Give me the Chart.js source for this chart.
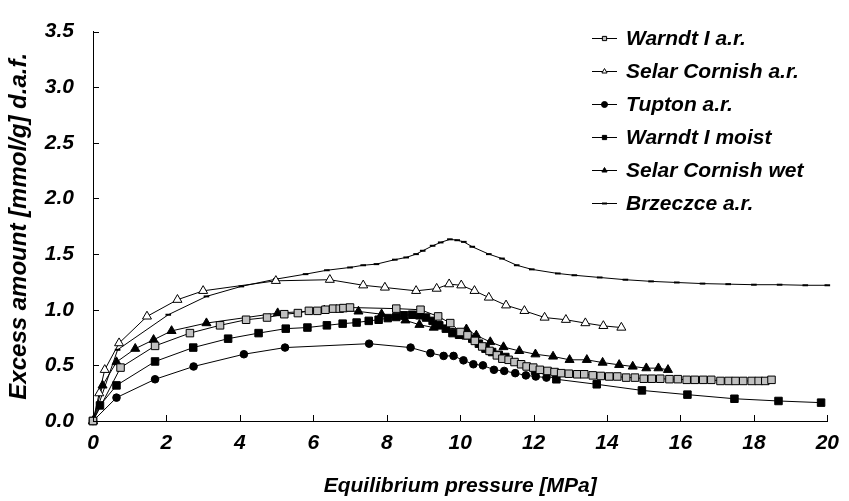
<!DOCTYPE html>
<html>
<head>
<meta charset="utf-8">
<script src="https://cdn.jsdelivr.net/npm/chart.js@4.4.0/dist/chart.umd.min.js"></script>
<style>
body { margin: 0; background: #fff; }
</style>
</head>
<body>
<canvas id="chart" width="849" height="501"></canvas>
<script>
// [pressure MPa, excess amount mmol/g]
const warndtAr = [[0,0],[0.75,0.48],[1.69,0.675],[2.64,0.79],[3.46,0.86],[4.17,0.91],[4.74,0.93],[5.21,0.96],[5.58,0.97],[5.88,0.99],[6.11,0.99],[6.33,1.0],[6.54,1.01],[6.72,1.01],[6.82,1.015],[7.0,1.02],[8.26,1.01],[8.92,1.0],[9.40,0.94],[9.73,0.88],[10.01,0.80],[10.2,0.77],[10.4,0.72],[10.6,0.67],[10.8,0.63],[11.0,0.59],[11.15,0.56],[11.32,0.55],[11.48,0.53],[11.66,0.51],[11.81,0.49],[11.99,0.48],[12.17,0.46],[12.38,0.45],[12.57,0.44],[12.75,0.43],[12.96,0.425],[13.19,0.42],[13.38,0.42],[13.61,0.41],[13.83,0.405],[14.06,0.40],[14.28,0.40],[14.52,0.39],[14.76,0.39],[15.0,0.38],[15.22,0.38],[15.45,0.38],[15.70,0.376],[15.93,0.376],[16.17,0.37],[16.39,0.37],[16.62,0.37],[16.84,0.37],[17.09,0.36],[17.31,0.36],[17.50,0.36],[17.71,0.36],[17.94,0.36],[18.13,0.36],[18.31,0.36],[18.48,0.37]];
const selarAr = [[0,0],[0.17,0.25],[0.32,0.46],[0.71,0.70],[1.47,0.94],[2.30,1.09],[3.0,1.17],[4.98,1.26],[6.45,1.27],[7.36,1.22],[7.95,1.20],[8.80,1.17],[9.36,1.19],[9.70,1.23],[10.03,1.22],[10.39,1.17],[10.78,1.11],[11.25,1.04],[11.75,0.99],[12.30,0.93],[12.88,0.91],[13.41,0.88],[13.90,0.855],[14.39,0.84]];
const tupton = [[0,0],[0.64,0.21],[1.69,0.375],[2.74,0.49],[4.11,0.60],[5.23,0.66],[7.52,0.695],[8.65,0.66],[9.19,0.61],[9.55,0.585],[9.82,0.585],[10.09,0.545],[10.36,0.51],[10.62,0.50],[10.92,0.46],[11.2,0.45],[11.5,0.43],[11.79,0.41],[12.06,0.40],[12.35,0.39]];
const warndtMoist = [[0,0],[0.19,0.14],[0.64,0.32],[1.69,0.535],[2.73,0.66],[3.68,0.74],[4.51,0.79],[5.25,0.83],[5.84,0.84],[6.37,0.86],[6.80,0.875],[7.18,0.885],[7.51,0.90],[7.78,0.91],[8.03,0.925],[8.26,0.935],[8.47,0.95],[8.69,0.955],[8.89,0.95],[9.07,0.93],[9.25,0.90],[9.43,0.86],[9.61,0.83],[9.79,0.79],[9.97,0.775],[10.15,0.77],[10.33,0.74],[10.51,0.695],[10.69,0.65],[10.87,0.62],[11.05,0.595],[11.23,0.575],[12.04,0.45],[12.62,0.375],[13.72,0.33],[14.95,0.275],[16.19,0.237],[17.47,0.20],[18.67,0.18],[19.83,0.165]];
const selarWet = [[0,0],[0.26,0.32],[0.64,0.53],[1.15,0.65],[1.65,0.73],[2.14,0.81],[3.09,0.88],[5.03,0.97],[6.30,0.995],[7.23,0.985],[7.86,0.96],[8.51,0.905],[8.89,0.865],[9.28,0.84],[10.17,0.825],[10.44,0.77],[10.82,0.71],[11.18,0.665],[11.61,0.63],[12.05,0.60],[12.53,0.58],[12.98,0.55],[13.45,0.55],[13.88,0.525],[14.33,0.505],[14.70,0.49],[15.07,0.475],[15.40,0.475],[15.66,0.46]];
const brzeczce = [[0,0],[0.67,0.64],[2.05,0.955],[3.09,1.12],[4.04,1.21],[4.98,1.275],[5.79,1.32],[6.37,1.355],[7.0,1.38],[7.36,1.40],[7.72,1.41],[8.22,1.45],[8.53,1.47],[8.80,1.50],[8.98,1.53],[9.25,1.575],[9.47,1.605],[9.72,1.633],[9.92,1.625],[10.10,1.61],[10.33,1.566],[10.78,1.50],[11.14,1.46],[11.54,1.40],[11.95,1.363],[12.66,1.326],[13.11,1.31],[13.8,1.29],[14.5,1.27],[15.2,1.255],[15.9,1.245],[16.6,1.235],[17.3,1.23],[18.0,1.225],[18.7,1.225],[19.4,1.22],[20.0,1.22]];

const seriesNames = ['Warndt I a.r.', 'Selar Cornish a.r.', 'Tupton a.r.', 'Warndt I moist', 'Selar Cornish wet', 'Brzeczce a.r.'];
const xTitle = 'Equilibrium pressure [MPa]';
const yTitle = 'Excess amount [mmol/g] d.a.f.';

const fontFamily = "'Liberation Sans', Arial, sans-serif";
Chart.defaults.font.family = fontFamily;
Chart.defaults.color = '#000';

const toXY = arr => arr.map(p => ({x: p[0], y: p[1]}));

const makeSet = (label, arr, style, radius, fill, bw) => ({
  label: label,
  data: toXY(arr),
  showLine: true,
  borderColor: '#000',
  borderWidth: 1,
  pointStyle: style,
  pointRadius: radius,
  pointHoverRadius: radius,
  pointBackgroundColor: fill,
  pointBorderColor: '#000',
  pointBorderWidth: bw,
  clip: false
});

const datasets = [
  makeSet(seriesNames[0], warndtAr, 'rect', 5.3, '#c0c0c0', 1),
  makeSet(seriesNames[1], selarAr, 'triangle', 5.2, '#fff', 1),
  makeSet(seriesNames[2], tupton, 'circle', 3.8, '#000', 1),
  makeSet(seriesNames[3], warndtMoist, 'rect', 5.3, '#000', 1),
  makeSet(seriesNames[4], selarWet, 'triangle', 5.2, '#000', 1),
  makeSet(seriesNames[5], brzeczce, 'line', 2.8, '#000', 2)
];

// tick marks drawn inside the plot, like the original
const insideTicks = {
  id: 'insideTicks',
  afterDraw(chart) {
    const ctx = chart.ctx;
    const xs = chart.scales.x, ys = chart.scales.y;
    const a = chart.chartArea;
    ctx.save();
    ctx.strokeStyle = '#000';
    ctx.lineWidth = 1;
    ctx.beginPath();
    xs.ticks.forEach(t => {
      const px = Math.round(xs.getPixelForValue(t.value)) + 0.5;
      ctx.moveTo(px, a.bottom);
      ctx.lineTo(px, a.bottom - 6);
    });
    ys.ticks.forEach(t => {
      const py = Math.round(ys.getPixelForValue(t.value)) + 0.5;
      ctx.moveTo(a.left, py);
      ctx.lineTo(a.left + 6, py);
    });
    ctx.stroke();
    ctx.restore();
  }
};

const sideLegend = {
  id: 'sideLegend',
  afterDraw(chart) {
    const ctx = chart.ctx;
    ctx.save();
    chart.data.datasets.forEach((ds, i) => {
      const y = 38.5 + i * 33;
      ctx.strokeStyle = '#000';
      ctx.lineWidth = 1;
      ctx.beginPath();
      ctx.moveTo(592, y);
      ctx.lineTo(617, y);
      ctx.stroke();
      ctx.fillStyle = ds.pointBackgroundColor;
      ctx.strokeStyle = '#000';
      ctx.lineWidth = ds.pointBorderWidth;
      Chart.helpers.drawPoint(ctx, {
        pointStyle: ds.pointStyle,
        radius: ds.pointStyle === 'line' ? 2.5 : 3,
        borderWidth: ds.pointBorderWidth,
        rotation: 0
      }, 604.5, y);
      ctx.fillStyle = '#000';
      ctx.font = 'italic bold 21px ' + fontFamily;
      ctx.textBaseline = 'middle';
      ctx.textAlign = 'left';
      ctx.fillText(ds.label, 626, y + 1);
    });
    ctx.restore();
  }
};

new Chart(document.getElementById('chart').getContext('2d'), {
  type: 'scatter',
  data: { datasets: datasets },
  options: {
    responsive: false,
    animation: false,
    layout: { padding: { top: 20, right: 13, bottom: 0, left: 0 } },
    plugins: {
      legend: { display: false },
      tooltip: { enabled: false }
    },
    scales: {
      x: {
        type: 'linear',
        min: 0,
        max: 20,
        afterFit: s => { s.height = 80; },
        grid: { display: false, drawTicks: false },
        border: { display: true, color: '#000', width: 1 },
        ticks: {
          stepSize: 2,
          autoSkip: false,
          maxRotation: 0,
          padding: 10,
          font: { size: 21, style: 'italic', weight: 'bold' }
        },
        title: {
          display: true,
          text: xTitle,
          padding: { top: 0, bottom: 2 },
          font: { size: 21, style: 'italic', weight: 'bold' }
        }
      },
      y: {
        type: 'linear',
        min: 0,
        max: 3.5,
        afterFit: s => { s.width = 93; },
        grid: { display: false, drawTicks: false },
        border: { display: true, color: '#000', width: 1 },
        ticks: {
          stepSize: 0.5,
          autoSkip: false,
          padding: 19,
          callback: v => v.toFixed(1),
          font: { size: 21, style: 'italic', weight: 'bold' }
        },
        title: {
          display: true,
          text: yTitle,
          padding: { top: 5, bottom: 0 },
          font: { size: 24, style: 'italic', weight: 'bold' }
        }
      }
    }
  },
  plugins: [insideTicks, sideLegend]
});
</script>
</body>
</html>
